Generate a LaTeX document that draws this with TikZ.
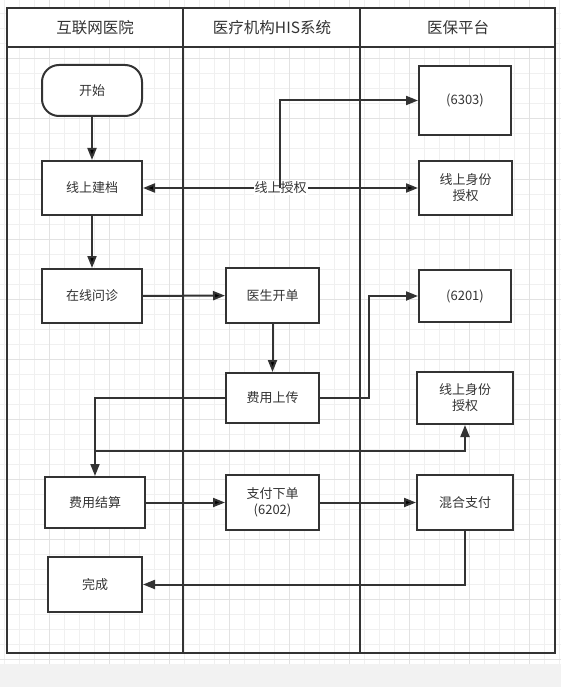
\documentclass[tikz,border=0pt]{standalone}
\usepackage{fontspec}
\setmainfont{Noto Sans CJK SC}
\usetikzlibrary{arrows.meta}
\definecolor{ink}{HTML}{333333}
\definecolor{gridminor}{HTML}{F0F0F0}
\definecolor{gridmajor}{HTML}{E2E2E2}
\definecolor{band}{HTML}{F2F2F2}

\begin{document}
\begin{tikzpicture}[x=1pt,y=-1pt,
	every node/.style={text=ink,font=\fontsize{13}{16}\selectfont},
	box/.style={draw=ink,line width=2pt,fill=white,inner sep=0pt,align=center},
	head/.style={font=\fontsize{15.5}{18}\selectfont},
	>={Triangle[length=12pt,width=9pt]},
	flow/.style={draw=ink,line width=2pt}]
	\useasboundingbox (0,0) rectangle (561,687);

	% background grid
	\fill[white] (0,0) rectangle (561,664);
	\fill[band] (0,664) rectangle (561,687);
	\foreach \x in {4,19,...,559} \draw[gridminor,line width=1pt] (\x,0) -- (\x,664);
	\foreach \y in {14,29,...,659} \draw[gridminor,line width=1pt] (0,\y) -- (561,\y);
	\foreach \x in {49,109,...,529} \draw[gridmajor,line width=1pt] (\x,0) -- (\x,664);
	\foreach \y in {59,119,...,659} \draw[gridmajor,line width=1pt] (0,\y) -- (561,\y);

	% lanes
	\fill[white] (7,8) rectangle (555,47);
	\draw[ink,line width=2.2pt] (7,8) rectangle (555,653);
	\draw[ink,line width=2.2pt] (7,47) -- (555,47);
	\draw[ink,line width=2.2pt] (183,8) -- (183,653);
	\draw[ink,line width=2.2pt] (360,8) -- (360,653);
	\node[head] (hospital) at (95,28) {互联网医院};
	\node[head] (his) at (272,28) {医疗机构HIS系统};
	\node[head] (insurance) at (458,28) {医保平台};

	% steps
	\node[box,rounded corners=17pt,minimum width=100pt,minimum height=51pt] (start) at (92,90.5) {开始};
	\node[box,minimum width=100pt,minimum height=54pt] (archive) at (92,188) {线上建档};
	\node[box,minimum width=100pt,minimum height=54pt] (consult) at (92,296) {在线问诊};
	\node[box,minimum width=93pt,minimum height=55pt] (prescribe) at (272.5,295.5) {医生开单};
	\node[box,minimum width=93pt,minimum height=50pt] (upload) at (272.5,398) {费用上传};
	\node[box,minimum width=100pt,minimum height=51pt] (settle) at (95,502.5) {费用结算};
	\node[box,minimum width=93pt,minimum height=55pt] (order) at (272.5,502.5) {支付下单\\(6202)};
	\node[box,minimum width=96pt,minimum height=55pt] (mixpay) at (465,502.5) {混合支付};
	\node[box,minimum width=94pt,minimum height=55pt] (done) at (95,584.5) {完成};
	\node[box,minimum width=92pt,minimum height=69pt] (p6303) at (465,100.5) {(6303)};
	\node[box,minimum width=93pt,minimum height=54pt] (authA) at (465.5,188) {线上身份\\授权};
	\node[box,minimum width=92pt,minimum height=52pt] (p6201) at (465,296) {(6201)};
	\node[box,minimum width=96pt,minimum height=52pt] (authB) at (465,398) {线上身份\\授权};

	\coordinate (grant) at (280,188);
	\coordinate (bendA) at (369,398);
	\coordinate (tap) at (95,451);

	% connectors
	\path[flow,->] (start) edge (archive);
	\path[flow,->] (archive) edge (consult);
	\path[flow,->] (consult) edge (prescribe);
	\path[flow,->] (prescribe) edge (upload);
	\path[flow,<->] (archive) edge node[fill=white,inner sep=1pt] {线上授权} (authA);
	\draw[flow,->] (grant) |- (p6303.west);
	\draw[flow,->] (upload.east) -- (bendA) |- (p6201.west);
	\draw[flow,->] (upload.west) -| (settle.north);
	\draw[flow,->] (tap) -| (authB.south);
	\path[flow,->] (settle) edge (order);
	\path[flow,->] (order) edge (mixpay);
	\draw[flow,->] (mixpay.south) |- (done.east);
\end{tikzpicture}
\end{document}
